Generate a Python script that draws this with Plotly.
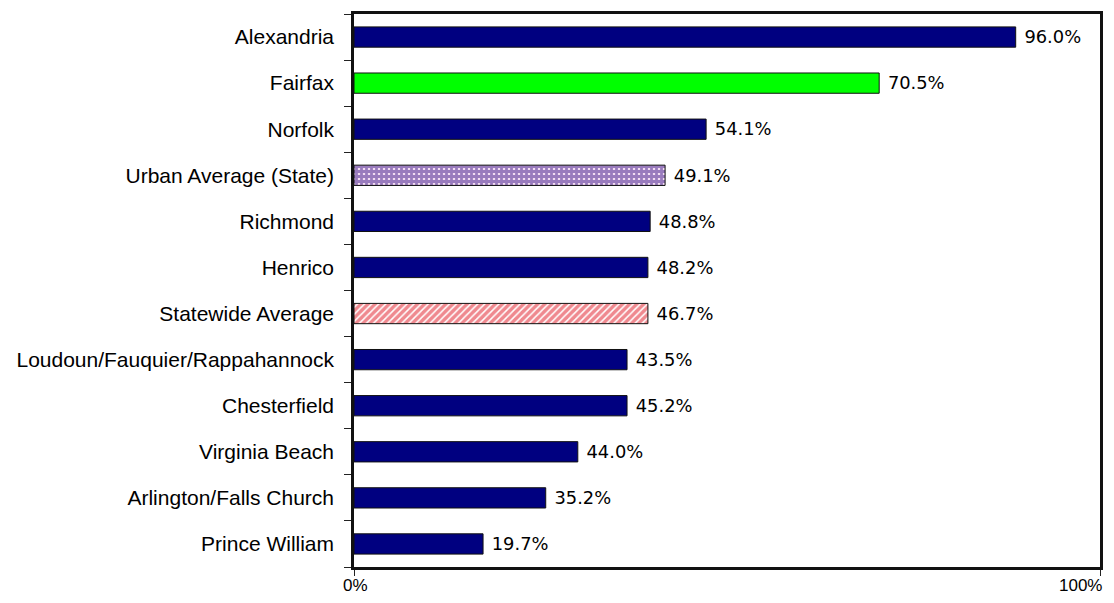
import plotly.graph_objects as go

# categories top to bottom as shown
categories = [
    "Alexandria", "Fairfax", "Norfolk", "Urban Average (State)", "Richmond",
    "Henrico", "Statewide Average", "Loudoun/Fauquier/Rappahannock",
    "Chesterfield", "Virginia Beach", "Arlington/Falls Church", "Prince William",
]
# bar lengths as drawn in the picture (percent of axis)
bar_lengths = [88.7, 70.4, 47.2, 41.7, 39.7, 39.4, 39.4, 36.6, 36.6, 30.0, 25.7, 17.3]
# value labels printed next to the bars
value_labels = ["96.0%", "70.5%", "54.1%", "49.1%", "48.8%", "48.2%", "46.7%",
                "43.5%", "45.2%", "44.0%", "35.2%", "19.7%"]

# which style each bar gets
groups = ["county", "fairfax", "county", "urban", "county", "county", "state",
          "county", "county", "county", "county", "county"]

# x axis end labels
x_ticks = [0, 100]
x_tick_labels = ["0%", "100%"]

styles = {
    "county": dict(color="#000080"),
    "fairfax": dict(color="#00FF00"),
    "urban": dict(color="#F2DCF2",
                  pattern=dict(shape="+", fgcolor="#3F1A88", size=5, solidity=0.8)),
    "state": dict(color="#FFFFFF",
                  pattern=dict(shape="/", fgcolor="#E0141F", size=5, solidity=0.7)),
}

fig = go.Figure()
for g, style in styles.items():
    idx = [i for i, k in enumerate(groups) if k == g]
    fig.add_trace(go.Bar(
        y=[categories[i] for i in idx],
        x=[bar_lengths[i] for i in idx],
        orientation="h",
        text=[value_labels[i] for i in idx],
        texttemplate="\u00a0%{text}",
        textposition="outside",
        textfont=dict(family="DejaVu Sans", size=18.5, color="#000000"),
        cliponaxis=False,
        marker=dict(line=dict(color="#111111", width=1), **style),
        width=0.44,
        name=g,
    ))

# page has an 8px body margin, so size the figure to sit inside it
fig.update_layout(
    width=1098, height=587,
    margin=dict(l=346, r=6, t=6, b=28),
    paper_bgcolor="white",
    plot_bgcolor="white",
    showlegend=False,
    barmode="relative",
)

fig.update_yaxes(
    categoryorder="array",
    categoryarray=categories[::-1],
    tickson="boundaries",
    ticks="outside", ticklen=7, tickcolor="#222222", tickwidth=1,
    ticklabelstandoff=13,
    tickfont=dict(family="Liberation Sans", size=21, color="#000000"),
    showline=True, linecolor="#111111", linewidth=2.5, mirror=True,
    showgrid=False, automargin=False,
)
fig.update_xaxes(
    range=[0, 100],
    tickvals=x_ticks,
    showticklabels=False,
    ticks="outside", ticklen=6, tickcolor="#222222",
    showline=True, linecolor="#111111", linewidth=2.5, mirror=True,
    showgrid=False, zeroline=False, automargin=False,
)

# end labels drawn as annotations so the 100% one can sit inside the page
for v, lab in zip(x_ticks, x_tick_labels):
    fig.add_annotation(
        text=lab, x=v, xref="x", y=0, yref="paper",
        xanchor="center", yanchor="middle",
        xshift=-20 if v == 100 else 1, yshift=-18,
        showarrow=False,
        font=dict(family="Liberation Sans", size=17, color="#000000"),
    )

fig.write_html("out.html")
